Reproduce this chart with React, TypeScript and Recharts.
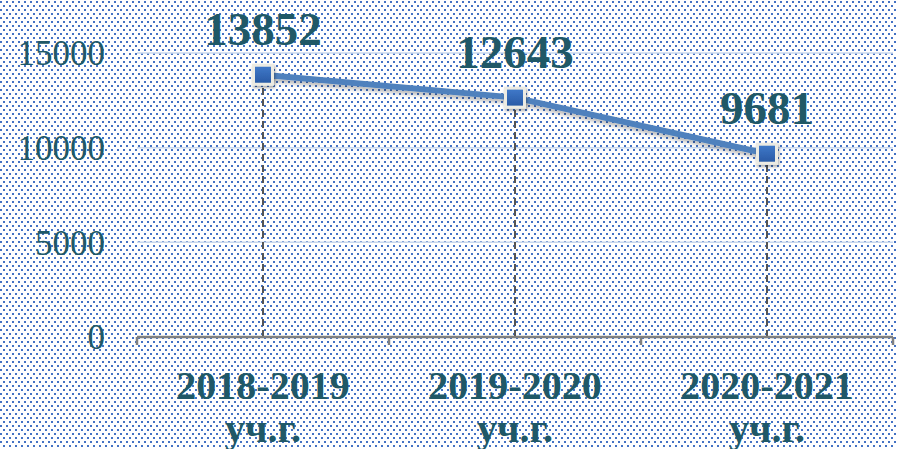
import { ComposedChart, Line, XAxis, YAxis, CartesianGrid, ReferenceLine, LabelList } from "recharts";

const years = ["2018-2019", "2019-2020", "2020-2021"];
const suffix = "уч.г.";
const counts = [13852, 12643, 9681];
const yTicks = [0, 5000, 10000, 15000];
const boundaryTicks = [-0.5, 0.5, 1.5, 2.5];

const data = years.map((year, i) => ({ year, pos: i, count: counts[i] }));

const textColor = "#205867";
const serif = "'Liberation Serif', 'Times New Roman', serif";

const dotsBg =
  "url(\"data:image/svg+xml;utf8,<svg xmlns='http://www.w3.org/2000/svg' width='6' height='8'><rect x='0' y='1' width='2' height='2' fill='%234472c4'/><rect x='3' y='5' width='2' height='2' fill='%234472c4'/></svg>\")";

const YearTick = ({ x, y, payload }: any) => (
  <g>
    <text x={x} y={y + 61} textAnchor="middle" fill={textColor} fontFamily={serif} fontWeight="bold" fontSize={40}>
      {payload.value}
    </text>
    <text x={x} y={y + 104} textAnchor="middle" fill={textColor} fontFamily={serif} fontWeight="bold" fontSize={40}>
      {suffix}
    </text>
  </g>
);

const SquareDot = ({ cx, cy }: any) => {
  if (cx == null || cy == null) return null;
  return (
    <g filter="url(#markShadow)">
      <rect x={cx - 11} y={cy - 11} width={22} height={22} fill="#ecebe3" />
      <rect x={cx - 8} y={cy - 8} width={16} height={16} fill="url(#markFill)" />
    </g>
  );
};

const ValueLabel = ({ x, y, value }: any) => (
  <text x={x} y={y - 30} textAnchor="middle" fill={textColor} fontFamily={serif} fontWeight="bold" fontSize={47}>
    {value}
  </text>
);

const App = () => {
  return (
    <div style={{ width: 897, height: 449, backgroundColor: "#ffffff", backgroundImage: dotsBg }}>
      <style>{"body{margin:0}"}</style>
      <ComposedChart width={897} height={449} data={data} margin={{ top: 53, right: 4, bottom: 0, left: 0 }}>
        <defs>
          <linearGradient id="markFill" x1="0" y1="0" x2="0" y2="1">
            <stop offset="0%" stopColor="#3f78c8" />
            <stop offset="100%" stopColor="#2a5ba6" />
          </linearGradient>
          <filter id="markShadow" x="-50%" y="-50%" width="200%" height="200%">
            <feDropShadow dx="1" dy="2" stdDeviation="1.5" floodColor="#000" floodOpacity="0.35" />
          </filter>
          <filter id="lineShadow" x="-10%" y="-50%" width="120%" height="200%">
            <feDropShadow dx="1" dy="3" stdDeviation="2" floodColor="#000" floodOpacity="0.3" />
          </filter>
        </defs>
        <CartesianGrid vertical={false} stroke="#c8d8ee" strokeWidth={1.5} xAxisId="b" />
        <XAxis
          xAxisId="b"
          dataKey="year"
          scale="band"
          height={111}
          axisLine={false}
          tickLine={false}
          tickSize={0}
          tickMargin={0}
          tick={<YearTick />}
          interval={0}
        />
        <XAxis
          xAxisId="a"
          type="number"
          dataKey="pos"
          domain={[-0.5, 2.5]}
          ticks={boundaryTicks}
          allowDataOverflow
          height={1}
          tick={() => <g />}
          tickSize={8}
          axisLine={{ stroke: "#808080", strokeWidth: 2.5 }}
          tickLine={{ stroke: "#808080", strokeWidth: 2.5 }}
        />
        <YAxis
          domain={[0, 15000]}
          ticks={yTicks}
          width={137}
          axisLine={false}
          tickLine={false}
          tickSize={0}
          tickMargin={32}
          tick={{ fill: textColor, fontSize: 35, fontFamily: serif }}
        />
        {data.map((d) => (
          <ReferenceLine
            key={d.year}
            xAxisId="b"
            segment={[
              { x: d.year, y: 0 },
              { x: d.year, y: d.count },
            ]}
            stroke="#555555"
            strokeWidth={2}
            strokeDasharray="7 4"
          />
        ))}
        <Line
          xAxisId="b"
          dataKey="count"
          stroke="#4f81bd"
          strokeWidth={6}
          filter="url(#lineShadow)"
          dot={<SquareDot />}
          activeDot={false}
          isAnimationActive={false}
        >
          <LabelList dataKey="count" content={<ValueLabel />} />
        </Line>
      </ComposedChart>
    </div>
  );
};

export default App;
